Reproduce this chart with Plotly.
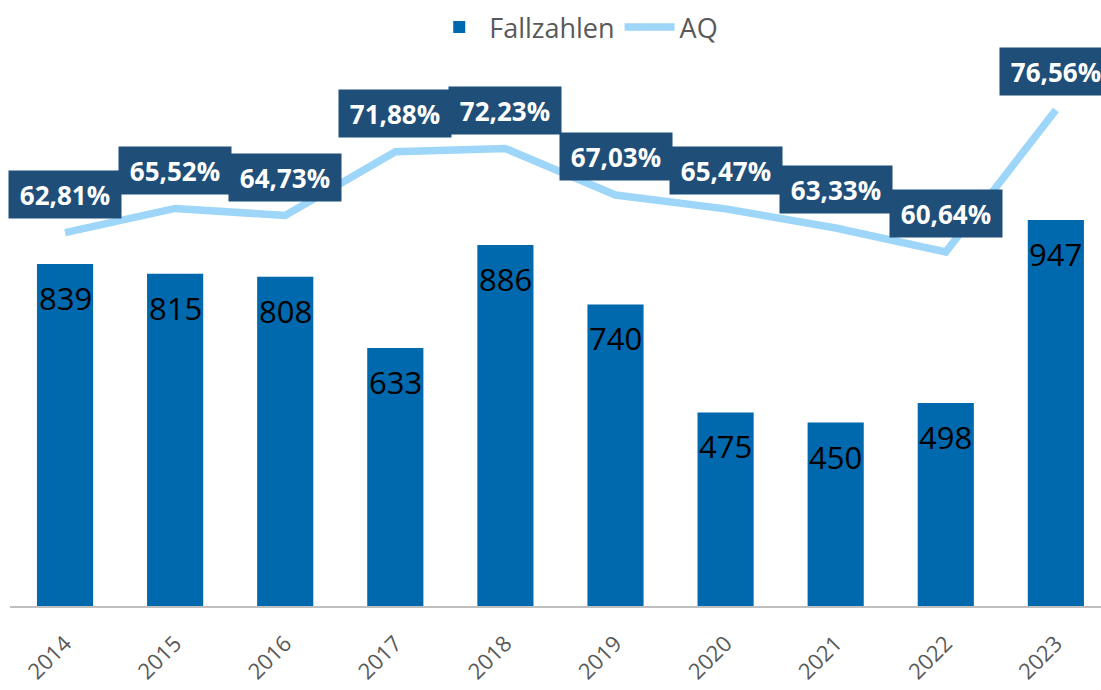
import plotly.graph_objects as go

years = ["2014", "2015", "2016", "2017", "2018", "2019", "2020", "2021", "2022", "2023"]
fallzahlen = [839, 815, 808, 633, 886, 740, 475, 450, 498, 947]
aq = [62.81, 65.52, 64.73, 71.88, 72.23, 67.03, 65.47, 63.33, 60.64, 76.56]
aq_labels = [f"{v:.2f}%".replace(".", ",") for v in aq]

BAR = "#0068AD"
LINE = "#9DD6F8"
BOX = "#1F4E79"
GREY = "#595959"
FONT = "Open Sans"

fig = go.Figure()
fig.add_trace(go.Bar(
    x=years, y=fallzahlen, name="Fallzahlen",
    marker=dict(color=BAR, line=dict(width=0)),
    width=0.51,
))
fig.add_trace(go.Scatter(
    x=years, y=aq, name="AQ", yaxis="y2", mode="lines",
    line=dict(color=LINE, width=7.5),
))

for i, v in enumerate(fallzahlen):
    fig.add_annotation(
        x=i, y=v, xref="x", yref="y", text=str(v), showarrow=False,
        yshift=-34, xanchor="center", yanchor="middle",
        font=dict(color="black", size=31, family=FONT),
    )

for i, (v, lab) in enumerate(zip(aq, aq_labels)):
    fig.add_annotation(
        x=i, y=v, xref="x", yref="y2", text=f"<b>{lab}</b>", showarrow=False,
        yshift=38, xanchor="center", yanchor="middle",
        font=dict(color="white", size=26, family=FONT),
        bgcolor=BOX, width=104, height=39, borderpad=4,
    )

fig.update_layout(
    width=1101, height=690,
    margin=dict(l=10, r=0, t=0, b=84, autoexpand=False),
    paper_bgcolor="white", plot_bgcolor="white",
    font=dict(family=FONT, color=GREY),
    showlegend=True,
    legend=dict(orientation="h", x=0.519, xanchor="center", y=0.995, yanchor="top",
                font=dict(size=27, color=GREY, family=FONT), itemwidth=50,
                traceorder="normal", bgcolor="rgba(0,0,0,0)"),
    xaxis=dict(
        type="category", range=[-0.5, 9.41], tickangle=-45,
        tickfont=dict(size=22, color=GREY, family=FONT),
        showline=True, linecolor="#BFBFBF", linewidth=2,
        showgrid=False, ticks="", ticklabelstandoff=14,
    ),
    yaxis=dict(range=[0, 1486.8], visible=False, showgrid=False, zeroline=False),
    yaxis2=dict(range=[20.95, 88.89], overlaying="y", side="right", visible=False,
                showgrid=False, zeroline=False),
)

fig.write_html("out.html", config={"displayModeBar": False},
               post_script="document.body.style.margin='0';document.body.style.overflow='hidden';")
